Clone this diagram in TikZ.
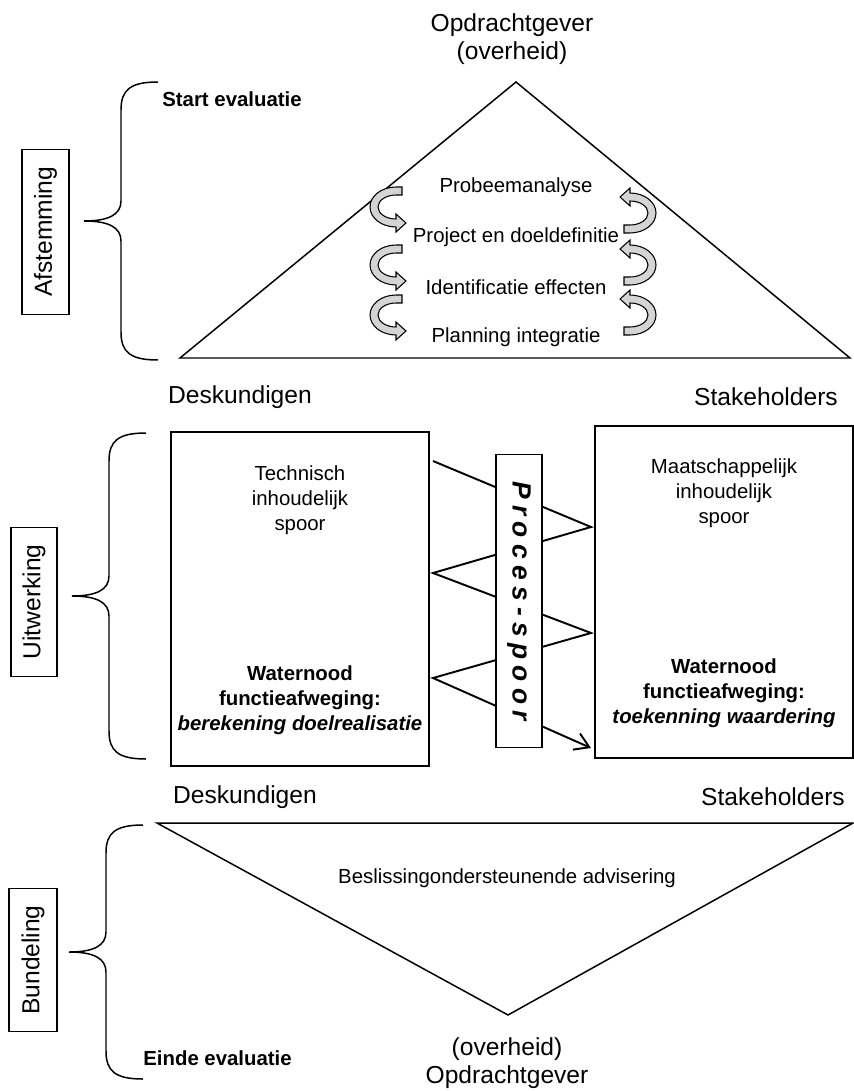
\documentclass[tikz,border=0pt]{standalone}
\usepackage{fontspec}
\setmainfont{Liberation Sans}
\usetikzlibrary{arrows.meta,positioning}
\definecolor{ribbongray}{RGB}{212,212,212}
\tikzset{
  basebox/.style={rectangle,draw=black,line width=0.85pt,fill=white,inner sep=0pt},
  phasebox/.style={basebox,rotate=90,font=\fontsize{14}{16}\selectfont},
  trackbox/.style={basebox,minimum width=5.16cm},
  lbl/.style={font=\fontsize{14}{16}\selectfont,align=center,inner sep=0pt},
  txt/.style={font=\fontsize{11.6}{14.2}\selectfont,align=center,inner sep=0pt},
  btxt/.style={txt,font=\fontsize{11.6}{14.2}\selectfont\bfseries},
  tri/.style={draw=black,line width=0.85pt,line join=miter},
  brace/.style={draw=black,line width=0.85pt},
  zig/.style={draw=black,line width=1.1pt,line join=miter},
  curlarr/.pic={
    \path[draw=black,line width=0.6pt,fill=ribbongray,line join=miter]
      (14,20) -- (8,20) arc[start angle=90,end angle=270,x radius=26,y radius=20]
      -- (8,-25) -- (18,-16) -- (8,-7) -- (8,-12)
      arc[start angle=270,end angle=90,x radius=18,y radius=12] -- (14,12) -- cycle;
  }
}
% #1 x of the ends, #2 top, #3 bottom (pixels, downwards)
\newcommand{\phasebrace}[3]{%
  \pgfmathsetmacro\hh{#3-#2}
  \pgfmathsetmacro\hm{\hh/2}
  \begin{scope}[shift={(#1,-#2)}]
    \draw[brace] (0,0) .. controls (-28,0) and (-37,-8) .. (-37,-28)
      -- (-37,{-\hm+20}) .. controls (-37,{-\hm+6}) and (-50,{-\hm}) .. (-74,{-\hm})
      .. controls (-50,{-\hm}) and (-37,{-\hm-6}) .. (-37,{-\hm-20})
      -- (-37,{-\hh+28}) .. controls (-37,{-\hh+8}) and (-28,{-\hh}) .. (0,{-\hh});
  \end{scope}}

\begin{document}
\begin{tikzpicture}[x=0.02cm,y=0.02cm]
  \useasboundingbox (0,0) rectangle (854,-1091);

  %% Afstemming
  \node[lbl] (opdr) at (512,-39) {Opdrachtgever\\(overheid)};
  \coordinate (tTop) at (516,-82);
  \coordinate (tLeft) at (180,-358);
  \coordinate (tRight) at (850,-358);
  \draw[tri] (tTop) -- (tRight) -- (tLeft) -- cycle;
  \node[btxt,anchor=west] (start) at (162,-99) {Start evaluatie};
  \node[txt] (step1) at (516,-187) {Probeemanalyse};
  \node[txt] (step2) at (516,-237) {Project en doeldefinitie};
  \node[txt] (step3) at (516,-287) {Identificatie effecten};
  \node[txt] (step4) at (516,-337) {Planning integratie};
  \foreach \yy in {-207,-265,-315} \pic at (388,\yy) {curlarr};
  \foreach \yy in {-213,-265,-315} \pic[rotate=180] at (638,\yy) {curlarr};
  \phasebrace{158}{82}{360}
  \node[phasebox,minimum width=3.3cm,minimum height=0.94cm] (afst) at (45.5,-232) {Afstemming};

  %% Uitwerking
  \node[lbl] (desk1) at (240,-397) {Deskundigen};
  \node[lbl] (stak1) at (766,-397) {Stakeholders};
  \node[trackbox,minimum height=6.68cm] (tech) at (300,-599) {};
  \node[trackbox,minimum height=6.64cm] (maat) at (724,-592) {};
  \node[txt] (techT) at (300,-500) {Technisch\\inhoudelijk\\spoor};
  \node[btxt] (techW) at (300,-700) {Waternood\\functieafweging:\\\itshape berekening doelrealisatie};
  \node[txt] (maatT) at (724,-493) {Maatschappelijk\\inhoudelijk\\spoor};
  \node[btxt] (maatW) at (724,-693) {Waternood\\functieafweging:\\\itshape toekenning waardering};
  \coordinate (z0) at (433,-461);
  \coordinate (z1) at (591,-527);
  \coordinate (z2) at (433,-573);
  \coordinate (z3) at (591,-633);
  \coordinate (z4) at (433,-678);
  \coordinate (z5) at (591,-748);
  \draw[zig,-{Straight Barb[length=8pt,width=10pt]}] (z0) -- (z1) -- (z2) -- (z3) -- (z4) -- (z5);
  \node[basebox,rotate=-90,minimum width=5.86cm,minimum height=0.92cm,
        font=\fontsize{15}{18}\selectfont\bfseries\itshape\addfontfeature{LetterSpace=24}] (proc) at (519,-601) {Proces-spoor};
  \phasebrace{146}{433}{759}
  \node[phasebox,minimum width=2.98cm,minimum height=0.92cm] (uitw) at (34,-602) {Uitwerking};

  %% Bundeling
  \node[lbl] (desk2) at (245,-797) {Deskundigen};
  \node[lbl] (stak2) at (773,-797) {Stakeholders};
  \coordinate (bLeft) at (157,-823);
  \coordinate (bRight) at (853,-823);
  \coordinate (bBot) at (508,-1015);
  \draw[tri] (bLeft) -- (bRight) -- (bBot) -- cycle;
  \node[txt] (advies) at (507,-878) {Beslissingondersteunende advisering};
  \node[lbl] (opdr2) at (507,-1063) {(overheid)\\Opdrachtgever};
  \node[btxt,anchor=west] (einde) at (143,-1058) {Einde evaluatie};
  \phasebrace{143}{825}{1079}
  \node[phasebox,minimum width=2.86cm,minimum height=0.96cm] (bund) at (33,-960) {Bundeling};
\end{tikzpicture}
\end{document}
